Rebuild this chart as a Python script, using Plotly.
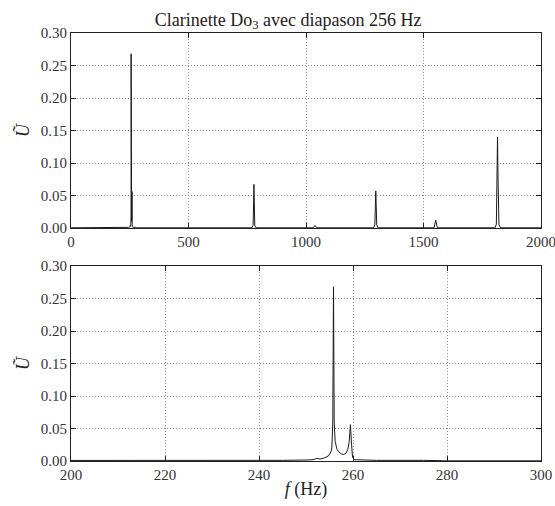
import plotly.graph_objects as go
from plotly.subplots import make_subplots

# Spectrum (frequency in Hz, normalized amplitude U~)
freq = [0, 200, 240, 245, 250, 251.5, 252.3, 253, 254, 254.8, 255.3, 255.5, 255.7, 255.85,
        256.0, 256.2, 256.6, 257.0, 257.5, 258.0, 258.5, 258.9, 259.2, 259.45, 259.7, 259.9,
        260.3, 262, 265, 275, 280,
        400, 770, 775, 778.5, 782, 787,
        1030, 1038, 1046,
        1288, 1293, 1297, 1301, 1306,
        1545, 1552, 1559,
        1805, 1810, 1813, 1815, 1817, 1821, 1828, 2000]
amp = [0.0003, 0.0003, 0.0006, 0.001, 0.0015, 0.002, 0.004, 0.003, 0.005, 0.008, 0.014, 0.02, 0.06, 0.268,
       0.06, 0.03, 0.018, 0.014, 0.011, 0.010, 0.012, 0.018, 0.03, 0.056, 0.025, 0.006,
       0.002, 0.0015, 0.001, 0.001, 0.0003,
       0.0003, 0.0003, 0.004, 0.067, 0.004, 0.0003,
       0.0003, 0.004, 0.0003,
       0.0003, 0.005, 0.057, 0.005, 0.0003,
       0.0003, 0.012, 0.0003,
       0.0003, 0.006, 0.064, 0.140, 0.081, 0.005, 0.0003, 0.0003]

top_xticks = [0, 500, 1000, 1500, 2000]
bottom_xticks = [200, 220, 240, 260, 280, 300]
yticks = [0.00, 0.05, 0.10, 0.15, 0.20, 0.25, 0.30]

title_text = "Clarinette Do<sub>3</sub> avec diapason 256 Hz"
ylabel = "<i>Ũ</i>"
xlabel = "<i>f</i> (Hz)"

FONT = "Liberation Serif"

fig = make_subplots(rows=2, cols=1, vertical_spacing=0.0888)
fig.add_trace(go.Scatter(x=freq, y=amp, mode="lines",
                         line=dict(color="#1a1a1a", width=1)), row=1, col=1)
fig.add_trace(go.Scatter(x=freq, y=amp, mode="lines",
                         line=dict(color="#1a1a1a", width=1)), row=2, col=1)

axis_common = dict(showline=True, linecolor="#222", linewidth=1, mirror="ticks",
                   ticks="inside", ticklen=5, tickcolor="#222", automargin=False,
                   ticklabeloverflow="allow",
                   showgrid=True, gridcolor="#8a8a8a", gridwidth=1, griddash="1px,2px",
                   zeroline=False, tickfont=dict(family=FONT, size=15, color="#333"))

fig.update_xaxes(range=[0, 2000], tickvals=top_xticks, row=1, col=1, **axis_common)
fig.update_xaxes(range=[200, 300], tickvals=bottom_xticks, row=2, col=1,
                 title=dict(text=xlabel, font=dict(family=FONT, size=18, color="#222"), standoff=0),
                 **axis_common)
for r in (1, 2):
    fig.update_yaxes(range=[0, 0.30], tickvals=yticks, tickformat=".2f", row=r, col=1,
                     title=dict(text=ylabel, font=dict(family=FONT, size=18, color="#222"), standoff=6),
                     **axis_common)

fig.update_layout(
    width=555, height=506,
    margin=dict(l=71, r=14, t=33, b=45),
    paper_bgcolor="white", plot_bgcolor="white",
    showlegend=False,
    title=dict(text=title_text, x=0.519, xanchor="center", y=0.962, yanchor="middle",
               font=dict(family=FONT, size=18, color="#222")),
)
fig.layout.yaxis.domain = [0.5444, 1.0]
fig.layout.yaxis2.domain = [0.0, 0.4556]

fig.write_html("out.html", config={"displayModeBar": False},
               post_script="document.body.style.margin='0';document.body.style.overflow='hidden';")
